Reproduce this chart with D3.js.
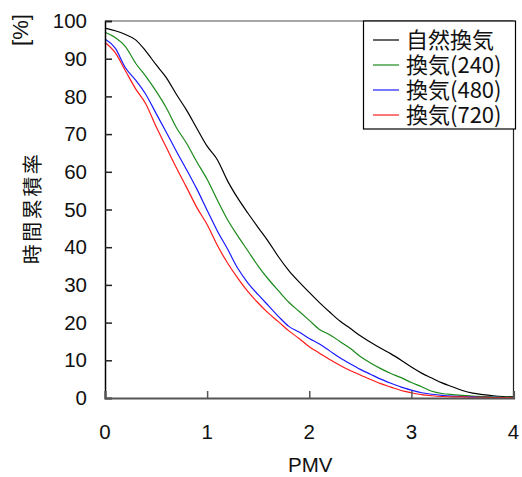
<!DOCTYPE html>
<html>
<head>
<meta charset="utf-8">
<script src="https://cdn.jsdelivr.net/npm/d3@7"></script>
<style>
  body { margin: 0; background: #fff; }
  text { font-family: "Liberation Sans", Arial, sans-serif; fill: #111; }
  .jp { font-family: "Noto Sans CJK JP", "Liberation Sans", sans-serif; }
</style>
</head>
<body>
<div id="chart"></div>
<script>
// PMV sample points
const pmv = [0, 0.1, 0.2, 0.3, 0.4, 0.5, 0.6, 0.7, 0.8, 0.9, 1.0, 1.1, 1.2, 1.3, 1.4, 1.5, 1.6, 1.7, 1.8, 1.9, 2.0,
  2.1, 2.2, 2.3, 2.4, 2.5, 2.6, 2.7, 2.8, 2.9, 3.0, 3.1, 3.2, 3.3, 3.4, 3.5, 3.6, 3.7, 3.8, 3.9, 4.0];

// cumulative time rate [%] per series
const natural = [98.1, 97.4, 96.4, 95.0, 92.0, 88.4, 85.0, 80.5, 76.3, 71.5, 66.8, 63.2, 57.6, 53.0, 49.0, 45.2, 41.5, 37.4, 33.8, 30.8, 28.0,
  25.3, 22.8, 20.4, 18.5, 16.5, 14.8, 13.2, 11.7, 10.0, 8.2, 6.6, 5.3, 4.0, 3.0, 2.0, 1.3, 0.9, 0.6, 0.4, 0.3];
const vent240 = [97.0, 95.6, 93.2, 88.8, 85.3, 81.4, 77.0, 71.7, 67.5, 62.6, 58.0, 52.5, 47.3, 43.0, 39.0, 35.0, 31.5, 28.4, 25.4, 23.0, 20.6,
  18.2, 16.8, 15.0, 13.2, 11.0, 9.3, 7.8, 6.5, 5.4, 4.1, 3.0, 1.8, 1.2, 0.9, 0.7, 0.5, 0.4, 0.3, 0.2, 0.2];
const vent480 = [95.2, 92.8, 87.6, 84.3, 80.5, 75.5, 70.5, 65.4, 60.5, 55.4, 49.8, 44.3, 39.5, 34.4, 30.5, 27.4, 24.5, 21.6, 19.0, 17.5, 15.8,
  14.3, 12.5, 10.7, 9.1, 7.6, 6.3, 5.0, 3.9, 2.9, 2.1, 1.4, 1.0, 0.7, 0.5, 0.4, 0.3, 0.2, 0.2, 0.1, 0.1];
const vent720 = [94.3, 91.6, 86.8, 82.0, 78.0, 72.0, 66.5, 61.0, 55.8, 50.5, 46.0, 40.5, 35.8, 31.8, 28.2, 25.2, 22.5, 20.2, 17.8, 15.8, 13.6,
  11.9, 10.2, 8.7, 7.3, 6.1, 4.9, 3.8, 2.9, 2.0, 1.4, 0.9, 0.6, 0.4, 0.3, 0.3, 0.2, 0.2, 0.1, 0.1, 0.1];

const seriesNames = ["自然換気", "換気(240)", "換気(480)", "換気(720)"];
const seriesColors = ["#000000", "#1a8a1a", "#1a1aff", "#ff1a1a"];
const seriesValues = [natural, vent240, vent480, vent720];

const xTicks = [0, 1, 2, 3, 4];
const yTicks = [0, 10, 20, 30, 40, 50, 60, 70, 80, 90, 100];

const width = 522, height = 477;
const margin = { top: 21, right: 8, bottom: 79, left: 105 };

const svg = d3.select("#chart").append("svg")
  .attr("width", width)
  .attr("height", height);

const x = d3.scaleLinear().domain([0, 4]).range([margin.left, width - margin.right - 0.5]);
const y = d3.scaleLinear().domain([0, 100]).range([height - margin.bottom, margin.top]);

// frame (top + right)
svg.append("line")
  .attr("x1", x(0)).attr("x2", x(4))
  .attr("y1", y(100)).attr("y2", y(100))
  .attr("stroke", "#888").attr("stroke-width", 1.5);
svg.append("line")
  .attr("x1", x(4)).attr("x2", x(4))
  .attr("y1", y(100)).attr("y2", y(0))
  .attr("stroke", "#222").attr("stroke-width", 1.2);

// series lines
const line = d3.line()
  .x((d, i) => x(pmv[i]))
  .y(d => y(d))
  .curve(d3.curveMonotoneX);

seriesValues.forEach((vals, k) => {
  svg.append("path")
    .datum(vals)
    .attr("d", line)
    .attr("fill", "none")
    .attr("stroke", seriesColors[k])
    .attr("stroke-width", 1.2);
});

// y axis
const yAxis = svg.append("g")
  .attr("transform", `translate(${x(0)},0)`)
  .call(d3.axisRight(y).tickValues(yTicks).tickSize(7).tickFormat(""));
yAxis.select(".domain").attr("stroke", "#000").attr("stroke-width", 1.5);
yAxis.selectAll(".tick line").attr("stroke", "#222").attr("stroke-width", 1.5);

svg.append("g").selectAll("text")
  .data(yTicks)
  .enter()
  .append("text")
    .attr("x", x(0) - 18)
    .attr("y", d => y(d))
    .attr("dy", "0.35em")
    .attr("text-anchor", "end")
    .style("font-size", "20.5px")
    .text(d => d);

// x axis
const xAxis = svg.append("g")
  .attr("transform", `translate(0,${y(0)})`)
  .call(d3.axisTop(x).tickValues(xTicks).tickSize(7).tickFormat(""));
xAxis.select(".domain").attr("stroke", "#555").attr("stroke-width", 2.2);
xAxis.selectAll(".tick line").attr("stroke", "#555").attr("stroke-width", 1.5);

svg.append("g").selectAll("text")
  .data(xTicks)
  .enter()
  .append("text")
    .attr("x", d => x(d))
    .attr("y", 439)
    .attr("text-anchor", "middle")
    .style("font-size", "20.5px")
    .text(d => d);

svg.append("text")
  .attr("x", (x(0) + x(4)) / 2 + 1)
  .attr("y", 472)
  .attr("text-anchor", "middle")
  .style("font-size", "20.5px")
  .text("PMV");

// y axis titles
svg.append("text")
  .attr("class", "jp")
  .attr("transform", "translate(39.5,208) rotate(-90)")
  .attr("text-anchor", "middle")
  .style("font-size", "20px")
  .style("letter-spacing", "2.5px")
  .text("時間累積率");

svg.append("text")
  .attr("transform", "translate(28,30) rotate(-90)")
  .attr("text-anchor", "middle")
  .style("font-size", "22px")
  .text("[%]");

// legend
const legend = svg.append("g");
legend.append("rect")
  .attr("x", 363.5).attr("y", 21)
  .attr("width", 152).attr("height", 108)
  .attr("fill", "#fff")
  .attr("stroke", "#000").attr("stroke-width", 1.2);

const legendRows = [40, 65, 90, 115];
seriesNames.forEach((name, k) => {
  legend.append("line")
    .attr("x1", 373).attr("x2", 399)
    .attr("y1", legendRows[k]).attr("y2", legendRows[k])
    .attr("stroke", seriesColors[k]).attr("stroke-width", 1.2);
  legend.append("text")
    .attr("class", "jp")
    .attr("x", 406)
    .attr("y", legendRows[k])
    .attr("dy", "0.36em")
    .style("font-size", "22px")
    .text(name);
});
</script>
</body>
</html>
